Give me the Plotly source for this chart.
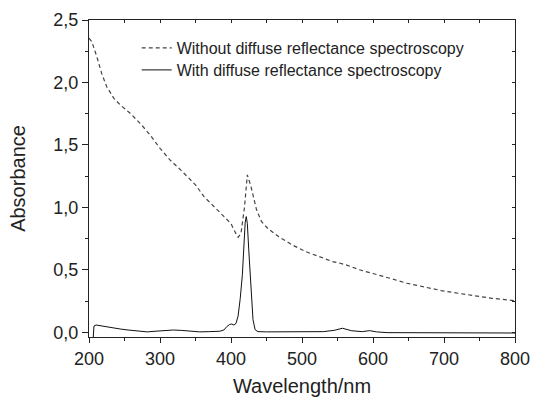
import plotly.graph_objects as go

# Dashed series: without diffuse reflectance spectroscopy
wl_without = [200, 204, 211, 218, 225, 235, 244, 258, 272, 286, 300, 314, 329, 343, 350,
              362, 381, 395, 400, 405, 410, 414, 419, 423, 428, 436, 443, 452, 467, 486,
              505, 524, 543, 552, 562, 581, 600, 624, 648, 672, 696, 720, 743, 767, 800]
abs_without = [2.354, 2.327, 2.207, 2.07, 1.966, 1.873, 1.82, 1.753, 1.673, 1.58, 1.473, 1.38, 1.30, 1.22, 1.18,
               1.086, 0.98, 0.90, 0.87, 0.81, 0.76, 0.79, 1.0, 1.26, 1.17, 0.98, 0.886, 0.83, 0.766, 0.70,
               0.646, 0.606, 0.566, 0.555, 0.54, 0.50, 0.472, 0.432, 0.392, 0.36, 0.334, 0.312, 0.29, 0.272, 0.253]

# Solid series: with diffuse reflectance spectroscopy
wl_with = [206, 207, 210, 213, 216, 220, 225, 230, 235, 244, 255, 263, 272, 282, 293, 305, 319, 330,
           338, 347, 356, 370, 384, 390, 394, 398, 401, 404, 407, 410, 413, 416, 418, 420, 421.5, 423,
           425, 427, 429, 431, 434, 438, 450, 500, 530, 545, 557, 570, 585, 595, 605, 620, 700, 800]
abs_with = [-0.04, 0.05, 0.058, 0.055, 0.053, 0.047, 0.04, 0.036, 0.032, 0.026, 0.018, 0.013, 0.006, 0.003, 0.008, 0.013, 0.018, 0.015,
            0.01, 0.006, 0.003, 0.005, 0.008, 0.018, 0.045, 0.062, 0.066, 0.058, 0.07, 0.13, 0.27, 0.46, 0.68, 0.88, 0.926, 0.87,
            0.66, 0.44, 0.24, 0.10, 0.02, 0.005, 0.003, 0.003, 0.005, 0.015, 0.032, 0.012, 0.005, 0.013, 0.003, -0.003, -0.006, -0.006]

label_without = "Without diffuse reflectance spectroscopy"
label_with = "With diffuse reflectance spectroscopy"

x_range = [200, 800]
y_range = [-0.038, 2.5]

FONT = "Liberation Sans, Arial, sans-serif"
AX = "#222222"

fig = go.Figure()
fig.add_trace(go.Scatter(x=wl_without, y=abs_without, mode="lines", name=label_without,
                         legend="legend",
                         line=dict(color="#444444", width=1.2, dash="4px,3px")))
fig.add_trace(go.Scatter(x=wl_with, y=abs_with, mode="lines", name=label_with,
                         legend="legend2",
                         line=dict(color="#111111", width=1.0)))
fig.add_trace(go.Scatter(x=[], y=[], xaxis="x2", yaxis="y2", showlegend=False, hoverinfo="skip"))

leg_common = dict(xanchor="left", yanchor="middle", bgcolor="rgba(0,0,0,0)",
                  font=dict(size=16, family=FONT, color=AX))

fig.update_layout(
    width=533, height=397,
    margin=dict(l=89, r=18, t=20, b=60),
    paper_bgcolor="white", plot_bgcolor="white",
    separators=", ",
    font=dict(family=FONT, color=AX),
    showlegend=True,
    legend=dict(x=0.112, y=(337 - 48) / 317, **leg_common),
    legend2=dict(x=0.112, y=(337 - 70) / 317, **leg_common),
    xaxis=dict(range=x_range, dtick=100, tick0=200, ticks="outside", ticklen=5, tickwidth=1,
               tickcolor=AX, showline=True, linecolor=AX, linewidth=1.2, mirror=True,
               showgrid=False, zeroline=False, tickfont=dict(size=18), automargin=False,
               minor=dict(dtick=50, ticks="outside", ticklen=3, tickcolor=AX),
               title=dict(text="Wavelength/nm", font=dict(size=20), standoff=15)),
    yaxis=dict(range=y_range, dtick=0.5, tick0=0, tickformat=".1f", ticks="outside", ticklen=6,
               tickwidth=1, tickcolor=AX, showline=True, linecolor=AX, linewidth=1.2, mirror=True,
               showgrid=False, zeroline=False, tickfont=dict(size=18), automargin=False,
               minor=dict(dtick=0.25, ticks="outside", ticklen=3, tickcolor=AX),
               title=dict(text="Absorbance", font=dict(size=20), standoff=22)),
    xaxis2=dict(range=x_range, overlaying="x", side="top", anchor="y2", dtick=50, tick0=200,
                ticks="inside", ticklen=3, tickcolor=AX, showticklabels=False, showgrid=False,
                zeroline=False, showline=False),
    yaxis2=dict(range=y_range, overlaying="y", side="right", anchor="x2", dtick=0.25, tick0=0,
                ticks="inside", ticklen=3, tickcolor=AX, showticklabels=False, showgrid=False,
                zeroline=False, showline=False),
)

fig.write_html("out.html")
